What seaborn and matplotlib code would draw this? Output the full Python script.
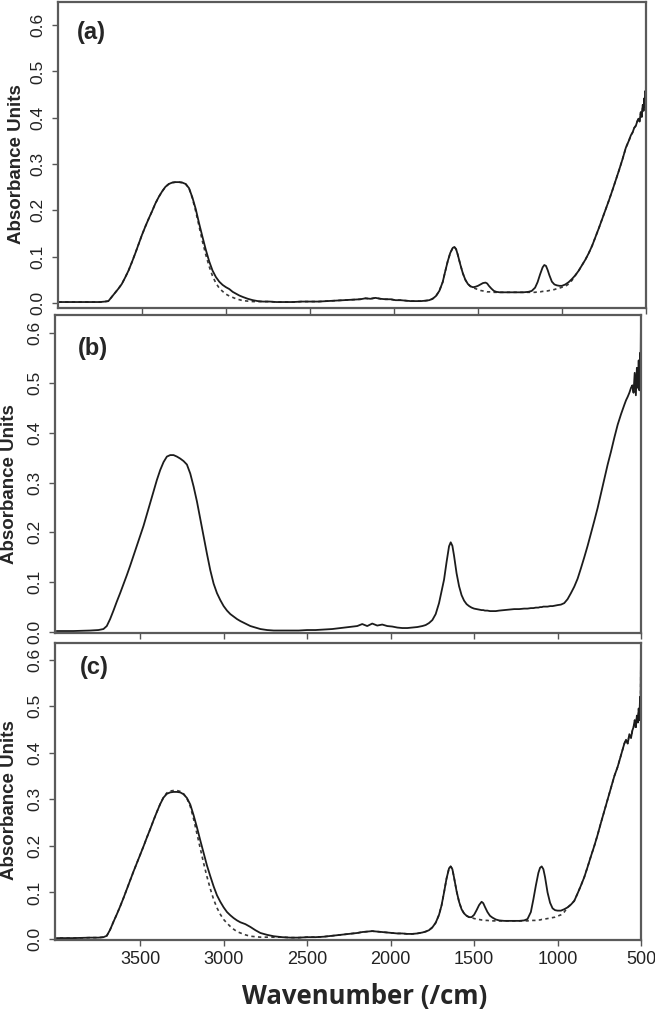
import numpy as np
import matplotlib
matplotlib.use("Agg")
import matplotlib.pyplot as plt
import seaborn as sns

# wavenumber grid (/cm), rows of 10
wavenumber = [
    4000, 3900, 3800, 3750, 3720, 3700, 3680, 3660, 3640, 3620,
    3600, 3580, 3560, 3540, 3520, 3500, 3480, 3460, 3440, 3420,
    3400, 3380, 3360, 3340, 3320, 3300, 3280, 3260, 3240, 3220,
    3200, 3180, 3160, 3140, 3120, 3100, 3080, 3060, 3040, 3020,
    3000, 2980, 2960, 2940, 2920, 2900, 2870, 2840, 2810, 2780,
    2740, 2700, 2650, 2600, 2550, 2500, 2450, 2400, 2350, 2300,
    2250, 2200, 2170, 2140, 2110, 2080, 2050, 2020, 1990, 1960,
    1930, 1900, 1870, 1840, 1810, 1790, 1770, 1750, 1730, 1710,
    1695, 1680, 1665, 1650, 1640, 1630, 1620, 1605, 1590, 1575,
    1560, 1545, 1530, 1515, 1500, 1485, 1470, 1455, 1445, 1435,
    1420, 1405, 1390, 1370, 1350, 1320, 1290, 1260, 1230, 1200,
    1180, 1160, 1145, 1130, 1115, 1105, 1095, 1085, 1075, 1060,
    1045, 1030, 1015, 1000, 980, 960, 940, 920, 900, 880,
    860, 840, 820, 800, 780, 760, 740, 720, 700, 680,
    660, 640, 620, 600, 590, 580, 570, 560, 552, 545,
    538, 531, 525, 519, 514, 510, 506, 503, 501, 500,
]

# (a) measured spectrum (solid) and fit (dashed)
absorb_a = [
    .002, .002, .002, .002, .003, .004, .013, .022, .031, .041,
    .055, .070, .088, .107, .127, .147, .165, .182, .198, .215,
    .229, .241, .251, .257, .260, .261, .261, .260, .257, .248,
    .228, .203, .172, .143, .115, .090, .070, .056, .046, .039,
    .034, .030, .024, .020, .016, .013, .009, .006, .004, .003,
    .003, .002, .002, .002, .003, .003, .003, .004, .005, .006,
    .007, .008, .010, .009, .011, .009, .008, .008, .006, .006,
    .005, .004, .004, .004, .005, .006, .009, .015, .026, .045,
    .068, .090, .108, .119, .121, .116, .104, .083, .064, .050,
    .041, .036, .034, .035, .037, .040, .043, .044, .042, .037,
    .031, .026, .024, .023, .023, .023, .023, .023, .023, .024,
    .026, .033, .045, .062, .077, .082, .080, .071, .060, .046,
    .040, .038, .037, .037, .040, .045, .052, .060, .070, .082,
    .094, .108, .124, .143, .162, .182, .202, .222, .243, .265,
    .287, .310, .335, .352, .362, .368, .378, .383, .392, .398,
    .392, .412, .402, .428, .415, .442, .424, .458, .440, .470,
]
fit_a = [
    .002, .002, .002, .002, .003, .004, .013, .022, .031, .041,
    .055, .070, .088, .107, .127, .147, .165, .182, .198, .215,
    .229, .241, .251, .257, .260, .261, .261, .260, .257, .248,
    .226, .198, .165, .133, .104, .079, .058, .043, .032, .025,
    .019, .015, .012, .009, .007, .005, .004, .003, .003, .003,
    .003, .002, .002, .002, .003, .003, .003, .004, .005, .006,
    .007, .008, .010, .009, .011, .009, .008, .008, .006, .006,
    .005, .004, .004, .004, .005, .006, .009, .015, .026, .045,
    .068, .090, .108, .119, .121, .116, .104, .083, .064, .050,
    .041, .036, .033, .031, .029, .027, .026, .025, .024, .024,
    .024, .023, .023, .023, .023, .023, .023, .023, .023, .023,
    .023, .023, .024, .024, .025, .025, .026, .026, .027, .028,
    .029, .031, .032, .034, .036, .041, .049, .060, .070, .082,
    .094, .108, .124, .143, .162, .182, .202, .222, .243, .265,
    .287, .310, .335, .352, .362, .368, .378, .383, .392, .398,
    .392, .412, .402, .428, .415, .442, .424, .458, .440, .640,
]

# (b) measured spectrum
absorb_b = [
    .002, .002, .003, .004, .006, .012, .026, .043, .061, .078,
    .096, .114, .133, .153, .173, .193, .213, .236, .259, .282,
    .305, .325, .341, .352, .355, .355, .352, .348, .343, .336,
    .318, .292, .262, .228, .192, .157, .124, .097, .078, .064,
    .052, .043, .036, .031, .026, .022, .017, .012, .009, .006,
    .004, .003, .003, .003, .003, .004, .004, .005, .006, .008,
    .010, .012, .016, .012, .017, .013, .015, .012, .011, .009,
    .008, .008, .009, .010, .012, .014, .018, .024, .036, .058,
    .082, .105, .140, .172, .180, .173, .153, .118, .092, .074,
    .063, .056, .052, .049, .047, .046, .045, .044, .044, .043,
    .043, .042, .042, .042, .043, .044, .045, .046, .046, .047,
    .047, .048, .048, .049, .049, .050, .050, .051, .051, .051,
    .052, .052, .053, .054, .055, .058, .066, .078, .091, .107,
    .128, .150, .173, .198, .223, .249, .278, .307, .336, .362,
    .390, .416, .437, .456, .465, .472, .480, .490, .495, .480,
    .520, .475, .530, .490, .545, .485, .560, .515, .600, .625,
]

# (c) measured spectrum (solid) and fit (dashed)
absorb_c = [
    .002, .002, .003, .003, .004, .007, .020, .037, .053, .070,
    .088, .107, .126, .145, .163, .181, .199, .218, .236, .255,
    .273, .290, .304, .312, .315, .316, .316, .315, .311, .303,
    .289, .266, .240, .212, .185, .158, .135, .113, .094, .080,
    .068, .058, .051, .045, .040, .036, .032, .026, .019, .013,
    .009, .006, .004, .003, .003, .004, .004, .005, .007, .009,
    .011, .013, .015, .016, .017, .016, .015, .014, .013, .012,
    .012, .011, .011, .012, .014, .016, .019, .025, .035, .052,
    .072, .100, .130, .152, .156, .150, .132, .103, .080, .064,
    .055, .050, .047, .047, .052, .062, .073, .080, .077, .069,
    .058, .050, .046, .042, .040, .039, .039, .039, .039, .040,
    .043, .058, .085, .115, .142, .153, .156, .150, .133, .100,
    .078, .066, .062, .061, .061, .064, .068, .074, .082, .098,
    .115, .133, .155, .178, .200, .224, .250, .275, .300, .325,
    .350, .370, .395, .420, .428, .420, .440, .432, .448, .455,
    .470, .455, .480, .465, .495, .470, .520, .490, .600, .620,
]
fit_c = [
    .002, .002, .003, .003, .004, .007, .020, .037, .053, .070,
    .088, .107, .126, .145, .163, .181, .199, .218, .236, .255,
    .273, .290, .305, .314, .318, .319, .319, .317, .312, .302,
    .285, .258, .226, .195, .163, .134, .108, .085, .067, .053,
    .042, .034, .027, .021, .016, .013, .009, .006, .005, .004,
    .004, .004, .004, .003, .003, .004, .004, .005, .007, .009,
    .011, .013, .015, .016, .017, .016, .015, .014, .013, .012,
    .012, .011, .011, .012, .014, .016, .019, .025, .035, .052,
    .072, .100, .130, .152, .156, .150, .132, .103, .080, .064,
    .055, .050, .047, .046, .044, .043, .042, .041, .041, .040,
    .040, .039, .039, .039, .039, .039, .039, .039, .039, .039,
    .039, .040, .040, .040, .041, .041, .042, .042, .043, .044,
    .045, .046, .047, .049, .052, .058, .068, .074, .082, .098,
    .115, .133, .155, .178, .200, .224, .250, .275, .300, .325,
    .350, .370, .395, .420, .428, .420, .440, .432, .448, .455,
    .470, .455, .480, .465, .495, .470, .520, .490, .600, .620,
]

panel_tags = ["(a)", "(b)", "(c)"]
ytick_values = [0.0, 0.1, 0.2, 0.3, 0.4, 0.5, 0.6]
xtick_values = [3500, 3000, 2500, 2000, 1500, 1000, 500]

sns.set_style("white")
plt.rcParams["font.family"] = ["Liberation Sans", "DejaVu Sans"]

fig = plt.figure(figsize=(6.55, 10.13), dpi=100)
ax_a = fig.add_axes([0.0885, 0.6959, 0.8977, 0.3021])
ax_b = fig.add_axes([0.084, 0.3751, 0.8947, 0.3139])
ax_c = fig.add_axes([0.084, 0.0721, 0.8947, 0.2932])

solid_kw = dict(color="#1c1c1c", linewidth=1.3, legend=False)
dash_kw = dict(color="#3a3a3a", linewidth=1.2, dashes=(2, 2), legend=False)

sns.lineplot(x=wavenumber, y=fit_a, ax=ax_a, **dash_kw)
sns.lineplot(x=wavenumber, y=absorb_a, ax=ax_a, **solid_kw)
sns.lineplot(x=wavenumber, y=absorb_b, ax=ax_b, **solid_kw)
sns.lineplot(x=wavenumber, y=fit_c, ax=ax_c, **dash_kw)
sns.lineplot(x=wavenumber, y=absorb_c, ax=ax_c, **solid_kw)

settings = [
    (ax_a, (4000, 500), (-0.011, 0.65), (0.032, 0.899), -0.056),
    (ax_b, (4010, 500), (-0.002, 0.636), (0.039, 0.896), -0.063),
    (ax_c, (4010, 500), (-0.002, 0.636), (0.043, 0.916), -0.063),
]
for (ax, xlim, ylim, tag_xy, ylab_x), tag in zip(settings, panel_tags):
    ax.set_xlim(*xlim)
    ax.set_ylim(*ylim)
    ax.set_yticks(ytick_values)
    ax.set_yticklabels([f"{v:.1f}" for v in ytick_values])
    ax.set_xticks(xtick_values)
    ax.tick_params(axis="both", direction="out", length=4, width=1,
                   color="#555555", labelcolor="#222222")
    ax.tick_params(axis="y", labelrotation=90, labelsize=12.5, pad=5, left=True)
    ax.tick_params(axis="x", labelsize=13, pad=4, bottom=True)
    for lbl in ax.get_yticklabels():
        lbl.set_va("center")
    if ax is not ax_c:
        ax.set_xticklabels([])
    else:
        ax.set_xticklabels([str(v) for v in xtick_values])
    for sp in ax.spines.values():
        sp.set_color("#5a5a5a")
        sp.set_linewidth(1.6)
    ax.set_xlabel("")
    ax.set_ylabel("Absorbance Units", fontsize=13.5, fontweight="bold")
    ax.yaxis.set_label_coords(ylab_x, 0.47)
    ax.text(tag_xy[0], tag_xy[1], tag, transform=ax.transAxes,
            fontsize=17, fontweight="bold", ha="left", va="center")

fig.text(0.556, 0.016, "Wavenumber (/cm)", fontsize=18.5, fontweight="bold",
         family=["Open Sans", "DejaVu Sans"], ha="center", va="center")

fig.savefig("out.png", dpi=100)
